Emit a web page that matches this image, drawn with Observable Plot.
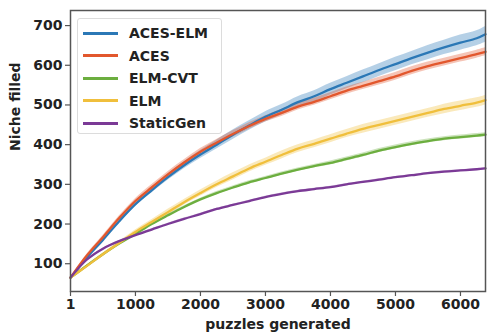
<!DOCTYPE html>
<html><head><meta charset="utf-8">
<script src="https://cdn.jsdelivr.net/npm/d3@7"></script>
<script src="https://cdn.jsdelivr.net/npm/@observablehq/plot@0.6"></script>
<style>
html,body{margin:0;padding:0;background:#fff;}
#wrap{position:relative;width:488px;height:332px;font-family:"DejaVu Sans",sans-serif;}
#legend{position:absolute;left:77px;top:18px;width:145px;height:116px;box-sizing:border-box;border:1px solid #dcdcdc;border-radius:3px;background:rgba(255,255,255,0.85);padding-top:3px;}
.item{height:22.5px;display:flex;align-items:center;font-weight:bold;font-size:14px;color:#222;}
.sw{width:35px;height:3px;margin-left:5px;margin-right:11px;}
</style>
</head><body>
<div id="wrap"></div>
<script>
const puzzles = [1,250,500,750,1000,1250,1500,1750,2000,2250,2500,2750,3000,3250,3500,3750,4000,4250,4500,4750,5000,5250,5500,5750,6000,6250,6385];
const seriesNames = ["ACES-ELM","ACES","ELM-CVT","ELM","StaticGen"];
const seriesColors = ["#2b78b6","#e2572d","#6cae3f","#f0bf3c","#7b3a96"];
const acesElm   = [65,115,160,207,250,285,318,348,375,400,425,448,470,488,507,522,540,556,572,588,603,618,632,645,657,668,678];
const aces      = [65,120,167,215,258,292,325,355,382,405,427,447,465,480,496,508,522,536,548,560,572,586,598,608,618,628,634];
const elmCvt    = [65,95,124,151,175,200,222,243,262,278,292,305,316,327,337,346,354,364,374,385,394,402,409,415,419,423,425];
const elm       = [65,94,124,152,180,205,230,255,278,300,320,340,357,374,390,402,415,428,440,450,460,470,480,490,498,506,512];
const staticGen = [65,110,138,157,172,186,200,213,225,238,248,258,268,276,283,288,293,300,306,312,318,323,328,332,335,338,340];
const acesElmSpread   = [0,3,4,5,6,7,8,9,10,11,12,12,13,13,14,14,15,15,16,16,17,17,18,18,19,19,20];
const acesSpread      = [0,3,4,5,6,7,7,7,8,8,8,8,8,9,9,9,9,9,9,10,10,10,10,10,10,10,10];
const elmCvtSpread    = [0,1,2,2,3,3,3,3,3,4,4,4,4,4,4,4,5,5,5,5,5,5,5,5,5,5,5];
const elmSpread       = [0,2,3,4,5,6,7,7,8,8,9,9,9,10,10,10,10,10,11,11,11,11,11,12,12,12,12];
const staticGenSpread = [0,1,1,1,2,2,2,2,2,2,2,2,2,2,2,2,2,2,2,2,2,2,2,2,2,2,2];
const xTicks = [1,1000,2000,3000,4000,5000,6000];
const yTicks = [100,200,300,400,500,600,700];

const values = [acesElm, aces, elmCvt, elm, staticGen];
const spreads = [acesElmSpread, acesSpread, elmCvtSpread, elmSpread, staticGenSpread];
const data = [];
seriesNames.forEach((s, i) => puzzles.forEach((p, j) => data.push({series: s, x: p, y: values[i][j], lo: values[i][j] - spreads[i][j], hi: values[i][j] + spreads[i][j]})));

const chart = Plot.plot({
  width: 488, height: 332,
  marginLeft: 70, marginRight: 3, marginTop: 10, marginBottom: 41,
  style: {fontFamily: "DejaVu Sans", fontSize: "14px", fontWeight: "bold", color: "#222", background: "#fff"},
  x: {domain: [1, 6385]},
  y: {domain: [30, 738]},
  color: {domain: seriesNames, range: seriesColors},
  marks: [
    Plot.areaY(data, {x: "x", y1: "lo", y2: "hi", z: "series", fill: "series", fillOpacity: 0.35, curve: "catmull-rom"}),
    Plot.line(data, {x: "x", y: "y", z: "series", stroke: "series", strokeWidth: 2.3, curve: "catmull-rom"}),
    Plot.frame({stroke: "#555", strokeWidth: 1.5}),
    Plot.axisX({ticks: xTicks, tickFormat: d => String(d), tickSize: 5, tickPadding: 3, stroke: "#555", strokeWidth: 1.2, label: null}),
    Plot.axisY({ticks: yTicks, tickSize: 5, tickPadding: 3, stroke: "#555", strokeWidth: 1.2, label: null}),
    Plot.text(["puzzles generated"], {frameAnchor: "bottom", dy: 37, fontWeight: "bold", fontSize: 14, fill: "#222"}),
    Plot.text(["Niche filled"], {frameAnchor: "left", dx: -55, rotate: -90, fontWeight: "bold", fontSize: 14, fill: "#222"})
  ]
});
const wrap = document.getElementById("wrap");
wrap.appendChild(chart);
const leg = document.createElement("div");
leg.id = "legend";
seriesNames.forEach((s, i) => {
  const it = document.createElement("div");
  it.className = "item";
  it.innerHTML = `<span class="sw" style="background:${seriesColors[i]}"></span><span>${s}</span>`;
  leg.appendChild(it);
});
wrap.appendChild(leg);
</script>
</body></html>
